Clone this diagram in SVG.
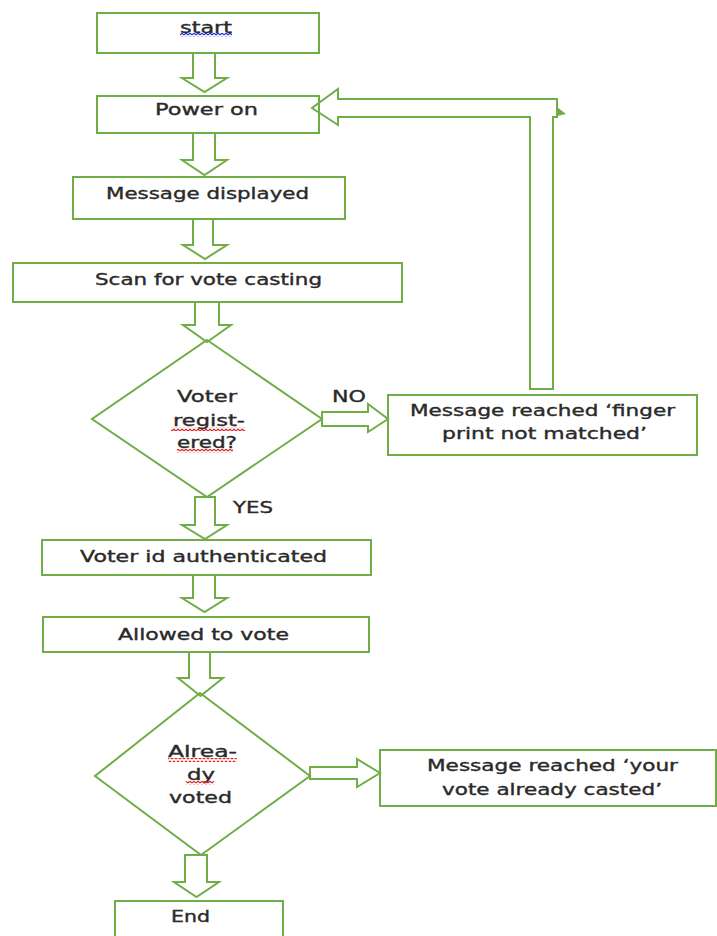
<svg xmlns="http://www.w3.org/2000/svg" width="717" height="936" viewBox="0 0 717 936">
  <style>
    .b { fill: #ffffff; stroke: #70AD47; stroke-width: 2; }
    .a { fill: none; stroke: #70AD47; stroke-width: 2; stroke-linejoin: miter; }
    .t { font-family: "DejaVu Sans", Verdana, sans-serif; font-size: 15px; fill: #2a2a2a; stroke: #2a2a2a; stroke-width: 0.35; }
    .wr { fill: url(#waveRed); }
    .wb { fill: url(#waveBlue); }
  </style>
  <defs>
    <pattern id="waveRed" patternUnits="userSpaceOnUse" width="4" height="4">
      <path d="M0 3 L2 1 L4 3" fill="none" stroke="#e02020" stroke-width="1.2"/>
    </pattern>
    <pattern id="waveBlue" patternUnits="userSpaceOnUse" width="4" height="4">
      <path d="M0 3 L2 1 L4 3" fill="none" stroke="#2030e0" stroke-width="1.2"/>
    </pattern>
  </defs>
  <rect width="717" height="936" fill="#ffffff"/>

  <g id="start">
    <rect class="b" x="97" y="13" width="222" height="40"/>
    <text class="t" x="180" y="33" textLength="52" lengthAdjust="spacingAndGlyphs">start</text>
    <rect class="wb" x="180" y="33" width="52" height="4"/>
  </g>
  <g id="power-on">
    <rect class="b" x="97" y="96" width="222" height="37"/>
    <text class="t" x="155" y="115" textLength="103" lengthAdjust="spacingAndGlyphs">Power on</text>
  </g>
  <g id="message-displayed">
    <rect class="b" x="73" y="177" width="272" height="42"/>
    <text class="t" x="106" y="199" textLength="203" lengthAdjust="spacingAndGlyphs">Message displayed</text>
  </g>
  <g id="scan">
    <rect class="b" x="13" y="263" width="389" height="39"/>
    <text class="t" x="95" y="285" textLength="227" lengthAdjust="spacingAndGlyphs">Scan for vote casting</text>
  </g>
  <g id="voter-registered">
    <polygon class="b" points="207,340 322,419 207,497 92,419"/>
    <text class="t" x="177" y="402" textLength="60" lengthAdjust="spacingAndGlyphs">Voter</text>
    <text class="t" x="173" y="426" textLength="72" lengthAdjust="spacingAndGlyphs">regist-</text>
    <rect class="wr" x="171" y="427" width="74" height="4"/>
    <text class="t" x="177" y="448" textLength="60" lengthAdjust="spacingAndGlyphs">ered?</text>
    <rect class="wr" x="177" y="449" width="56" height="4"/>
  </g>
  <g id="finger-not-matched">
    <rect class="b" x="388" y="395" width="309" height="60"/>
    <text class="t" x="410" y="416" textLength="265" lengthAdjust="spacingAndGlyphs">Message reached ‘finger</text>
    <text class="t" x="442" y="439" textLength="205" lengthAdjust="spacingAndGlyphs">print not matched’</text>
  </g>
  <g id="voter-id">
    <rect class="b" x="42" y="540" width="329" height="35"/>
    <text class="t" x="80" y="562" textLength="247" lengthAdjust="spacingAndGlyphs">Voter id authenticated</text>
  </g>
  <g id="allowed">
    <rect class="b" x="43" y="617" width="326" height="35"/>
    <text class="t" x="118" y="640" textLength="171" lengthAdjust="spacingAndGlyphs">Allowed to vote</text>
  </g>
  <g id="already-voted">
    <polygon class="b" points="200,693 310,776 201,855 95,776"/>
    <text class="t" x="168" y="757" textLength="69" lengthAdjust="spacingAndGlyphs">Alrea-</text>
    <rect class="wr" x="168" y="758" width="69" height="4"/>
    <text class="t" x="187" y="780" textLength="28" lengthAdjust="spacingAndGlyphs">dy</text>
    <rect class="wr" x="186" y="781" width="28" height="4"/>
    <text class="t" x="169" y="803" textLength="63" lengthAdjust="spacingAndGlyphs">voted</text>
  </g>
  <g id="already-casted">
    <rect class="b" x="380" y="750" width="336" height="56"/>
    <text class="t" x="427" y="771" textLength="251" lengthAdjust="spacingAndGlyphs">Message reached ‘your</text>
    <text class="t" x="442" y="795" textLength="220" lengthAdjust="spacingAndGlyphs">vote already casted’</text>
  </g>
  <g id="end">
    <rect class="b" x="115" y="901" width="168" height="40"/>
    <text class="t" x="171" y="922" textLength="39" lengthAdjust="spacingAndGlyphs">End</text>
  </g>

  <g id="connectors">
    <polygon class="a" points="193,53 215,53 215,78 227,78 204.5,92 182,78 193,78"/>
    <polygon class="a" points="193,133 215,133 215,160 227,160 204.5,175 182,160 193,160"/>
    <polygon class="a" points="193,219 213,219 213,245 227,245 205,259 183,245 193,245"/>
    <polygon class="a" points="195,302 219,302 219,325 231,325 207,342 183,325 195,325"/>
    <polygon class="a" points="195,497 215,497 215,525 227,525 205,539 182,525 195,525"/>
    <polygon class="a" points="193,575 215,575 215,598 227,598 204.5,612 182,598 193,598"/>
    <polygon class="a" points="189,652 210,652 210,678 223,678 200.5,696 178,678 189,678"/>
    <polygon class="a" points="185,855 207,855 207,882 219,882 196.5,897 174,882 185,882"/>
    <polygon class="a" points="322,412 368,412 368,404 388,419 368,432 368,426 322,426"/>
    <polygon class="a" points="310,767 357,767 357,759 380,773 357,787 357,779 310,779"/>
    <polygon class="a" points="530,389 530,117 338,117 338,125 312,108 338,89 338,99 557,99 557,117 553,117 553,389"/>
    <polygon fill="#70AD47" points="557,107 566,114 557,116"/>
    <text class="t" x="332" y="402" textLength="34" lengthAdjust="spacingAndGlyphs">NO</text>
    <text class="t" x="233" y="513" textLength="40" lengthAdjust="spacingAndGlyphs">YES</text>
  </g>
</svg>
